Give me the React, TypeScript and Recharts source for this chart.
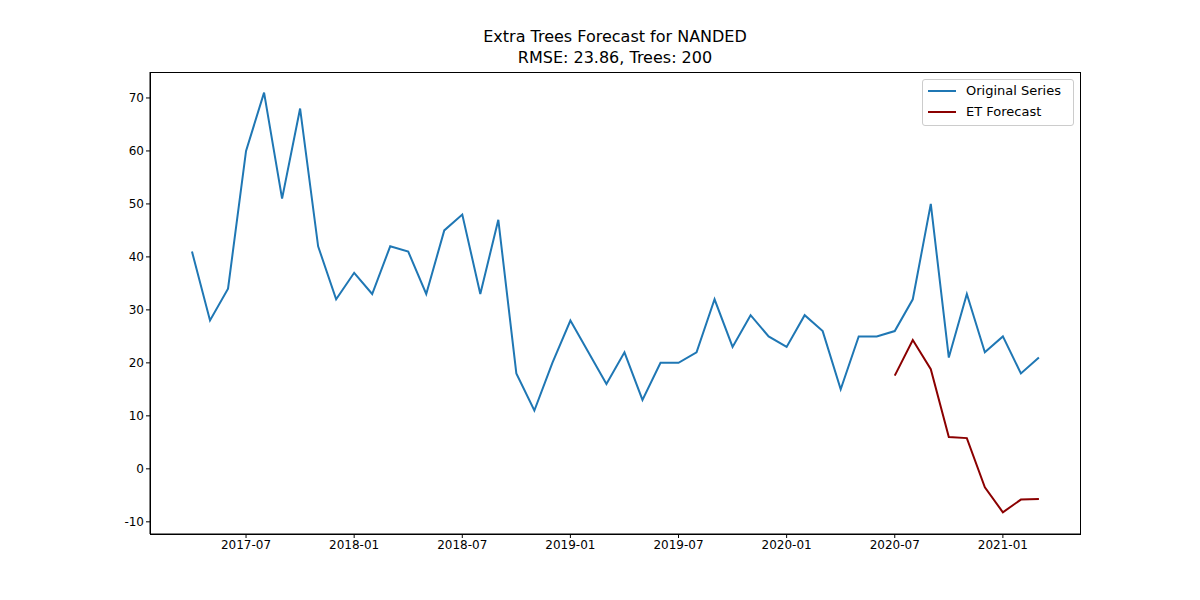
import { LineChart, Line, XAxis, YAxis } from 'recharts';

const months = [
  '2017-04', '2017-05', '2017-06', '2017-07', '2017-08', '2017-09', '2017-10', '2017-11', '2017-12',
  '2018-01', '2018-02', '2018-03', '2018-04', '2018-05', '2018-06', '2018-07', '2018-08', '2018-09',
  '2018-10', '2018-11', '2018-12', '2019-01', '2019-02', '2019-03', '2019-04', '2019-05', '2019-06',
  '2019-07', '2019-08', '2019-09', '2019-10', '2019-11', '2019-12', '2020-01', '2020-02', '2020-03',
  '2020-04', '2020-05', '2020-06', '2020-07', '2020-08', '2020-09', '2020-10', '2020-11', '2020-12',
  '2021-01', '2021-02', '2021-03',
];

const original = [
  41, 28, 34, 60, 71, 51, 68, 42, 32,
  37, 33, 42, 41, 33, 45, 48, 33, 47,
  18, 11, 20, 28, 22, 16, 22, 13, 20,
  20, 22, 32, 23, 29, 25, 23, 29, 26,
  15, 25, 25, 26, 32, 50, 21, 33, 22,
  25, 18, 21,
];

const forecastStart = '2020-07';
const forecast = [17.6, 24.3, 18.8, 6.0, 5.8, -3.5, -8.2, -5.8, -5.7];

const tickMonths = ['2017-07', '2018-01', '2018-07', '2019-01', '2019-07', '2020-01', '2020-07', '2021-01'];
const yTicks = [-10, 0, 10, 20, 30, 40, 50, 60, 70];

const fcOffset = months.indexOf(forecastStart);
const data = months.map((m, i) => ({
  idx: i,
  orig: original[i],
  fc: i >= fcOffset ? forecast[i - fcOffset] : null,
}));
const xTicks = tickMonths.map((m) => months.indexOf(m));

const font = 'DejaVu Sans, sans-serif';

export default function App() {
  return (
    <div style={{ position: 'absolute', left: 0, top: 0, width: 1200, height: 600, background: '#fff', fontFamily: font }}>
      <div style={{ position: 'absolute', top: 26, width: 1230, textAlign: 'center', fontSize: 16, lineHeight: '21px', color: '#000' }}>
        Extra Trees Forecast for NANDED<br />RMSE: 23.86, Trees: 200
      </div>
      <LineChart width={1200} height={600} data={data} margin={{ top: 72, right: 120, bottom: 36, left: 100 }}>
        <XAxis
          type="number"
          dataKey="idx"
          domain={[-2.33, 49.28]}
          ticks={xTicks}
          tickFormatter={(v: number) => months[v]}
          stroke="#000"
          tickSize={4}
          tick={{ fill: '#000', fontSize: 12, fontFamily: font }}
          height={30}
          allowDataOverflow
        />
        <YAxis
          type="number"
          domain={[-12.3, 74.9]}
          ticks={yTicks}
          stroke="#000"
          tickSize={4}
          tick={{ fill: '#000', fontSize: 12, fontFamily: font }}
          width={50}
          allowDataOverflow
        />
        <Line dataKey="orig" stroke="#1f77b4" strokeWidth={2} dot={false} isAnimationActive={false} />
        <Line dataKey="fc" stroke="#8b0000" strokeWidth={2} dot={false} isAnimationActive={false} connectNulls={false} />
      </LineChart>
      <div style={{ position: 'absolute', left: 150, top: 72, width: 929, height: 461, border: '1px solid #000', pointerEvents: 'none' }} />
      <div style={{ position: 'absolute', left: 922, top: 79, width: 150, height: 45, border: '1px solid #ccc', borderRadius: 3, background: '#fff', fontSize: 13, color: '#000' }}>
        {[['Original Series', '#1f77b4'], ['ET Forecast', '#8b0000']].map(([label, c], i) => (
          <div key={label} style={{ position: 'absolute', top: 3 + i * 21, left: 5, display: 'flex', alignItems: 'center' }}>
            <span style={{ display: 'inline-block', width: 28, height: 2, background: c, marginRight: 10 }} />
            {label}
          </div>
        ))}
      </div>
    </div>
  );
}
